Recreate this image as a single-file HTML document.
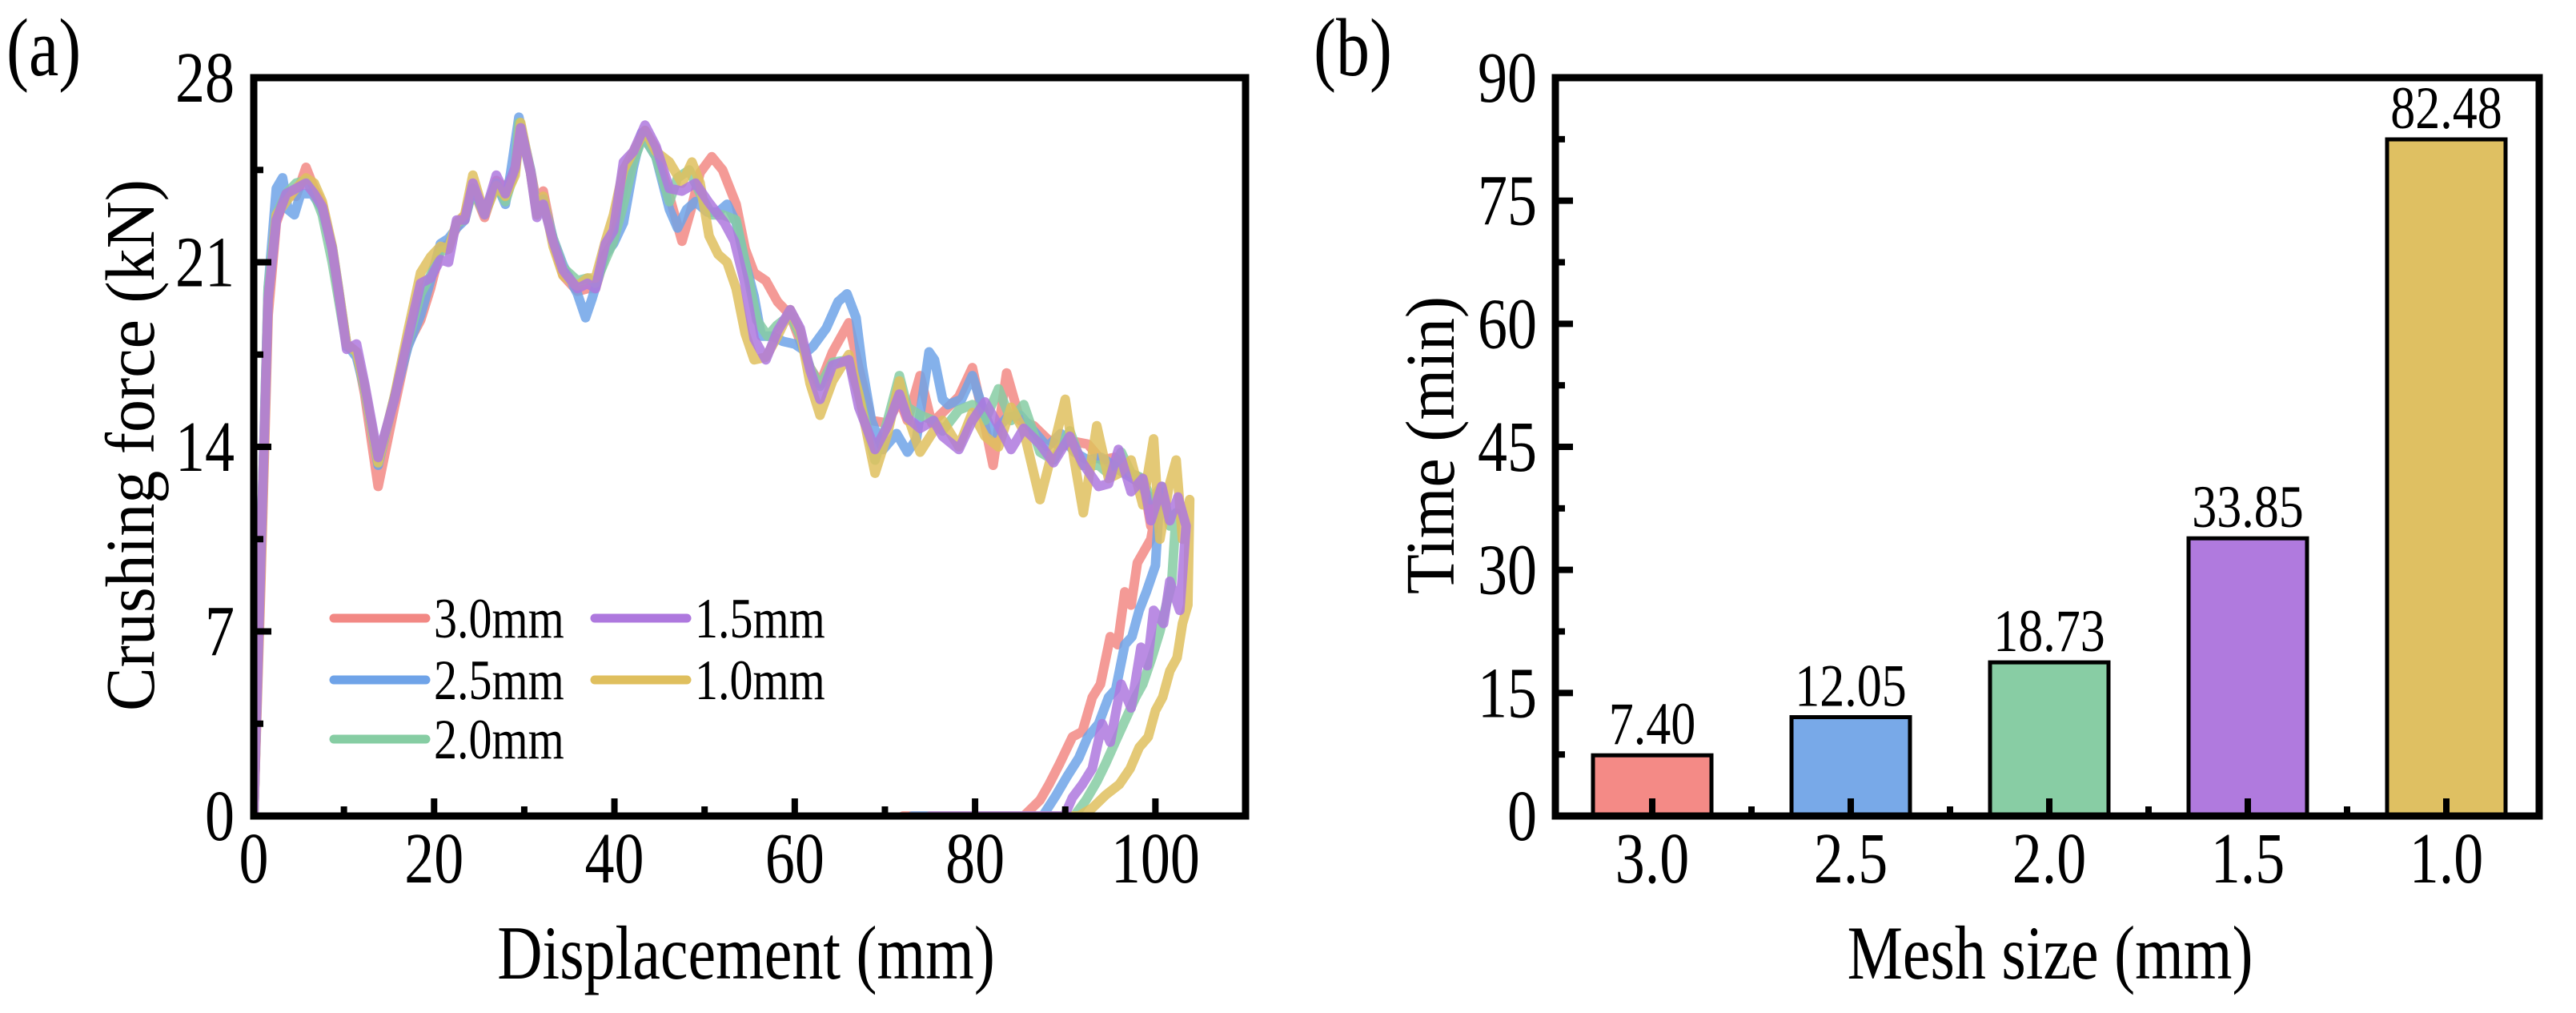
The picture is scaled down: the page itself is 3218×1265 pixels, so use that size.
<!DOCTYPE html>
<html><head><meta charset="utf-8"><style>
html,body{margin:0;padding:0;background:#fff;}
svg{display:block;}
text{font-family:"Liberation Serif","Times New Roman",serif;}
</style></head><body>
<svg id="fig" width="3218" height="1265" viewBox="0 0 3218 1265" xmlns="http://www.w3.org/2000/svg">
<g id="pa"></g>
<g id="pb"></g>
</svg>
<script>
// ---------- Panel (a) data ----------
const seriesNames = ["3.0mm","2.5mm","2.0mm","1.0mm","1.5mm"];
const seriesColors = ["#F28884","#6FA3E8","#86CDA3","#DFBF5E","#AE78DE"];
const xTicksA = [0,20,40,60,80,100];
const yTicksA = [0,7,14,21,28];
const s30 = [[0,0],[0.8,9],[1.6,19],[2.5,22.5],[3.6,23.6],[4.7,23.5],[5.8,24.6],[6.7,23.8],[7.6,23.2],[8.7,21.5],[9.4,19.8],[10.3,17.9],[11.4,17.6],[12.3,16.0],[13.8,12.5],[15.6,15.5],[17.1,17.9],[18.5,18.8],[19.6,20.0],[20.7,21.5],[21.6,21.7],[22.5,22.3],[23.4,22.8],[24.3,23.8],[25.6,22.7],[26.9,24.1],[27.9,23.8],[29.0,24.5],[29.6,26.0],[30.7,24.5],[31.4,23.2],[32.1,23.7],[33.2,21.8],[34.3,20.5],[35.9,19.9],[37.0,20.0],[37.9,20.0],[39.0,21.3],[39.9,21.8],[41.0,23.8],[42.1,25.0],[43.4,26.0],[44.6,25.3],[46.1,23.5],[47.5,21.8],[48.5,23.0],[49.5,24.4],[50.8,25.0],[52.0,24.5],[53.5,23.2],[54.5,21.5],[55.5,20.6],[56.8,20.3],[58.1,19.5],[59.5,19.0],[60.6,18.0],[61.7,17.0],[62.8,16.4],[64.2,17.6],[66.0,18.7],[67.1,17.0],[68.5,15.0],[70.3,14.9],[71.6,15.8],[72.5,15.0],[73.9,16.7],[75.2,14.9],[76.4,15.3],[78.2,15.9],[79.7,17.0],[81.1,14.8],[82.0,13.3],[83.5,16.8],[85.0,15.0],[86.5,14.8],[88.0,14.3],[89.5,14.0],[91.0,14.2],[92.5,14.1],[94.0,13.5],[95.5,13.6],[97.0,13.0],[98.6,12.8],[99.5,11.0],[100.3,12.0],[99.5,10.5],[98.0,9.6],[97.3,8.0],[96.6,8.5],[95.8,6.5],[95.0,6.8],[93.9,5.0],[93.0,4.5],[91.9,3.2],[90.8,3.0],[89.4,2.0],[88.2,1.2],[87.2,0.6],[85.4,0],[72,0]];
const s25 = [[0,0],[0.8,10],[1.6,20],[2.5,23.8],[3.2,24.2],[3.8,23.0],[4.5,22.8],[5.2,23.6],[6.5,23.6],[7.6,23.0],[8.7,21.6],[9.4,20.0],[10.3,17.9],[11.4,17.4],[12.3,16.2],[13.8,13.3],[15.6,15.9],[17.1,17.8],[18.5,19.0],[19.6,20.3],[20.7,21.7],[21.6,21.9],[22.5,22.3],[23.4,22.6],[24.3,23.8],[25.6,22.9],[26.9,24.0],[27.9,23.2],[28.5,24.4],[29.4,26.5],[30.7,24.5],[31.4,22.9],[32.1,23.4],[33.2,21.9],[34.3,20.9],[35.9,19.8],[36.8,18.9],[37.5,19.6],[39.0,21.3],[39.9,21.7],[41.0,22.5],[42.1,24.6],[43.0,25.9],[44.6,25.0],[46.1,23.0],[47.0,22.3],[48.0,23.0],[49.0,23.3],[50.3,22.9],[51.5,22.9],[52.5,23.2],[53.5,22.5],[54.5,21.0],[55.5,19.7],[56.3,18.2],[57.5,18.2],[58.7,18.0],[60.0,17.9],[61.3,17.6],[62.0,17.8],[63.5,18.5],[64.8,19.5],[65.8,19.8],[66.8,18.9],[67.5,17.0],[68.5,15.0],[69.8,13.9],[71.3,14.5],[72.5,13.8],[73.5,14.3],[74.9,17.6],[75.5,17.3],[76.4,15.8],[77.0,15.6],[78.5,15.8],[79.7,16.7],[81.0,15.3],[82.0,14.5],[83.5,15.1],[85.0,15.2],[86.5,14.6],[88.0,14.0],[89.5,14.5],[91.0,13.8],[92.5,13.5],[94.0,13.6],[95.3,13.3],[96.5,13.0],[98.0,12.7],[99.5,12.0],[100.5,12.3],[100.0,9.5],[99.0,8.5],[98.2,7.8],[97.4,6.8],[96.6,6.5],[95.6,4.8],[94.8,4.5],[93.7,3.5],[92.5,3.0],[91.5,2.2],[90.2,1.5],[89.0,0.8],[87.5,0],[73,0]];
const s20 = [[0,0],[0.8,10],[1.6,20],[2.5,22.8],[3.6,23.6],[4.7,24.0],[5.8,24.1],[6.7,23.6],[7.6,22.8],[8.7,21.0],[9.4,19.6],[10.3,17.8],[11.4,17.6],[12.3,16.2],[13.8,13.4],[15.6,15.9],[17.1,18.0],[18.5,19.8],[19.6,20.5],[20.7,21.4],[21.6,21.5],[22.5,22.5],[23.4,22.6],[24.3,23.8],[25.6,22.8],[26.9,24.0],[27.9,23.3],[29.0,24.5],[29.4,26.3],[30.7,24.4],[31.4,22.8],[32.1,23.2],[33.2,21.9],[34.3,20.8],[35.9,20.3],[37.0,20.4],[37.9,20.2],[39.0,21.1],[39.9,21.8],[41.0,23.2],[42.1,24.8],[43.2,25.8],[44.6,25.0],[46.1,23.3],[47.0,24.2],[48.3,24.5],[49.5,23.6],[50.8,22.8],[52.0,22.8],[53.5,22.6],[54.8,20.5],[55.8,18.8],[57.0,18.2],[58.0,18.6],[59.5,19.0],[60.6,18.2],[61.7,17.0],[62.8,16.3],[64.2,17.2],[66.0,17.3],[67.1,16.0],[68.9,13.5],[70.3,15.0],[71.6,16.7],[72.5,15.5],[73.9,15.2],[75.4,15.0],[76.4,14.6],[78.2,15.4],[79.7,15.6],[81.1,15.0],[82.6,16.2],[84.0,15.0],[85.4,15.6],[87.2,13.8],[88.7,13.5],[90.5,14.6],[91.9,13.3],[93.7,13.3],[95.1,12.9],[96.2,13.8],[97.3,13.0],[98.6,12.8],[99.5,12.0],[100.7,12.5],[101.6,11.0],[102.3,11.5],[101.8,8.8],[101.2,8.0],[100.5,7.0],[99.6,6.0],[98.6,5.0],[97.8,4.5],[96.6,3.6],[95.8,3.0],[94.5,2.0],[93.5,1.3],[92.3,0.6],[91.0,0],[75,0]];
const s10 = [[0,0],[0.8,9.5],[1.6,19.5],[2.5,22.8],[3.6,23.3],[4.7,23.8],[5.8,24.2],[6.7,24.0],[7.6,23.3],[8.7,21.6],[9.4,20.0],[10.3,17.9],[11.4,17.6],[12.3,16.3],[13.8,13.4],[15.6,15.9],[17.1,18.4],[18.5,20.6],[19.6,21.2],[20.7,21.6],[21.6,21.5],[22.5,22.5],[23.4,22.8],[24.3,24.3],[25.6,22.8],[26.9,23.9],[27.9,23.5],[29.0,24.3],[29.6,26.3],[30.7,24.4],[31.4,22.8],[32.1,23.5],[33.2,21.6],[34.3,20.5],[35.9,20.1],[37.0,20.4],[37.9,20.4],[39.0,21.8],[39.9,22.8],[41.0,24.5],[42.1,25.2],[43.4,26.0],[44.6,25.2],[46.1,24.8],[47.5,24.0],[48.6,24.8],[49.5,24.0],[50.5,22.0],[51.5,21.3],[52.5,21.0],[53.5,20.0],[54.5,18.3],[55.5,17.3],[56.8,17.4],[58.1,18.2],[59.5,19.2],[60.6,18.4],[61.7,16.4],[62.8,15.2],[64.2,16.5],[66.0,17.5],[67.1,16.0],[68.9,13.0],[70.3,14.5],[71.6,16.5],[72.5,15.2],[73.9,13.8],[75.4,14.6],[76.4,15.0],[78.2,14.0],[79.7,15.3],[81.1,14.4],[82.6,14.0],[84.0,15.5],[85.4,14.6],[87.2,12.0],[88.7,14.0],[90.0,15.8],[91.0,13.5],[92.0,11.5],[93.5,14.8],[94.8,12.8],[96.0,13.0],[97.3,13.5],[98.6,11.8],[99.8,14.3],[100.5,10.5],[101.5,12.5],[102.3,13.5],[103.0,10.5],[103.8,12.0],[103.6,8.0],[103.0,7.3],[102.4,6.0],[101.6,5.5],[100.8,4.5],[100.0,4.0],[99.2,3.0],[98.2,2.6],[97.2,1.8],[96.0,1.2],[94.5,0.8],[93.0,0.3],[91.5,0],[75,0]];
const s15 = [[0,0],[0.8,10],[1.6,19.6],[2.5,22.6],[3.6,23.6],[4.7,23.8],[5.8,24.0],[6.7,23.6],[7.6,23.1],[8.7,21.5],[9.4,19.9],[10.3,17.7],[11.4,17.9],[12.3,16.4],[13.8,13.6],[15.6,15.8],[17.1,18.1],[18.5,20.2],[19.6,20.4],[20.7,21.1],[21.6,21.0],[22.5,22.6],[23.4,22.6],[24.3,24.0],[25.6,22.8],[26.9,24.3],[27.9,23.6],[29.0,24.6],[29.6,26.1],[30.7,24.4],[31.4,22.7],[32.1,23.2],[33.2,21.8],[34.3,20.7],[35.9,20.0],[37.0,20.2],[37.9,20.0],[39.0,21.7],[39.9,22.2],[41.0,24.8],[42.1,25.2],[43.4,26.2],[44.6,25.4],[46.1,23.8],[47.5,23.7],[49.0,24.0],[50.4,23.3],[52.2,22.5],[53.3,21.8],[54.4,20.3],[55.5,18.1],[56.8,17.3],[58.1,18.4],[59.5,19.2],[60.6,18.5],[61.7,16.9],[62.8,15.8],[64.2,17.1],[66.0,17.3],[67.1,15.5],[68.9,13.9],[70.3,14.8],[71.6,16.0],[72.5,15.1],[73.9,14.7],[75.4,15.0],[76.4,14.4],[78.2,13.9],[79.7,15.0],[81.1,15.7],[82.6,14.8],[84.0,13.9],[85.4,14.7],[87.2,14.1],[88.7,13.4],[90.5,14.4],[91.9,13.4],[93.7,12.5],[94.8,12.6],[95.9,13.9],[97.3,12.3],[98.6,12.8],[99.5,11.2],[100.7,12.5],[101.6,11.2],[102.5,12.1],[103.4,11.0],[102.7,7.8],[101.6,8.9],[100.9,7.3],[99.8,7.8],[99.1,5.7],[98.4,6.4],[97.3,4.1],[96.2,5.0],[95.0,2.8],[94.1,3.5],[93.0,1.8],[91.9,1.2],[90.8,0.7],[89.9,0],[75,0]];
const seriesData = [s30, s25, s20, s10, s15];

// ---------- Panel (b) data ----------
const meshCats = ["3.0","2.5","2.0","1.5","1.0"];
const timeVals = [7.40, 12.05, 18.73, 33.85, 82.48];
const timeLabels = ["7.40","12.05","18.73","33.85","82.48"];
const barColors = ["#F48A86","#78A9E8","#88CDA4","#B07ADE","#DFC062"];
const yTicksB = [0,15,30,45,60,75,90];

const NS = "http://www.w3.org/2000/svg";
const SY = 1.22;
function mk(parent, tag, attrs, txt){
  const e = document.createElementNS(NS, tag);
  for (const k in attrs) e.setAttribute(k, attrs[k]);
  if (txt !== undefined) e.textContent = txt;
  parent.appendChild(e);
  return e;
}
function txt(parent, x, y, size, anchor, s, rot){
  const tr = rot ? 'translate(' + x + ',' + y + ') rotate(-90) scale(1.05,1.12)' : 'translate(' + x + ',' + y + ') scale(1,' + SY + ')';
  return mk(parent, 'text', {x:0, y:0, 'font-size':size, 'text-anchor':anchor, transform:tr}, s);
}

// ---------- Panel (a) ----------
const pa = document.getElementById('pa');
const A = {l:317, r:1556, t:97, b:1019, xmin:0, xmax:110, ymin:0, ymax:28};
const ax = v => A.l + (v - A.xmin) / (A.xmax - A.xmin) * (A.r - A.l);
const ay = v => A.b - (v - A.ymin) / (A.ymax - A.ymin) * (A.b - A.t);

let clip = mk(pa, 'clipPath', {id:'clipA'});
mk(clip, 'rect', {x:A.l, y:A.t, width:A.r-A.l, height:A.b-A.t});
const linesG = mk(pa, 'g', {'clip-path':'url(#clipA)'});


seriesData.forEach((s, i) => {
  const d = s.map((p, j) => (j ? 'L' : 'M') + ax(p[0]).toFixed(1) + ',' + ay(p[1]).toFixed(1)).join(' ');
  const path = mk(linesG, 'path', {d:d, fill:'none', stroke:seriesColors[i], 'stroke-width':12, 'stroke-linejoin':'round', 'stroke-linecap':'round', opacity:0.85});
  
  
});

const frameA = mk(pa, 'rect', {x:A.l, y:A.t, width:A.r-A.l, height:A.b-A.t, fill:'none', stroke:'#000', 'stroke-width':9});


xTicksA.forEach(v => {
  mk(pa, 'line', {x1:ax(v), x2:ax(v), y1:A.b, y2:A.b-22, stroke:'#000', 'stroke-width':8});
  const t = txt(pa, ax(v), 1102, 74, 'middle', String(v));
  
  
});
[10,30,50,70,90].forEach(v => mk(pa, 'line', {x1:ax(v), x2:ax(v), y1:A.b, y2:A.b-12, stroke:'#000', 'stroke-width':8}));
yTicksA.forEach(v => {
  mk(pa, 'line', {x1:A.l, x2:A.l+22, y1:ay(v), y2:ay(v), stroke:'#000', 'stroke-width':8});
  const t = txt(pa, 293, ay(v)+30, 74, 'end', String(v));
  
  
});
[3.5,10.5,17.5,24.5].forEach(v => mk(pa, 'line', {x1:A.l, x2:A.l+12, y1:ay(v), y2:ay(v), stroke:'#000', 'stroke-width':8}));

let tt = txt(pa, 192, 556, 78, 'middle', 'Crushing force (kN)', true);


tt = txt(pa, 932, 1222, 78, 'middle', 'Displacement (mm)');


tt = txt(pa, 8, 94, 84, 'start', '(a)');



const legend = mk(pa, 'g', {});


const legPos = [[417,772],[417,849],[417,923],[743,849],[743,772]];
seriesNames.forEach((n, i) => {
  const g = mk(legend, 'g', {});
  
  
  const [lx, ly] = legPos[i];
  mk(g, 'line', {x1:lx, x2:lx+115, y1:ly, y2:ly, stroke:seriesColors[i], 'stroke-width':11, 'stroke-linecap':'round'});
  txt(g, lx+125, ly+24, 58, 'start', n);
});

// ---------- Panel (b) ----------
const pb = document.getElementById('pb');
const B = {l:1943, r:3172, t:97, b:1019, ymax:90};
const slot = 248;
const bx = i => 2064 + i * slot;
const by = v => B.b - v / B.ymax * (B.b - B.t);
const barW = 148;

meshCats.forEach((c, i) => {
  const r = mk(pb, 'rect', {x:bx(i)-barW/2, y:by(timeVals[i]), width:barW, height:B.b-by(timeVals[i]), fill:barColors[i], stroke:'#000', 'stroke-width':5});
  
  
  const t = txt(pb, bx(i), by(timeVals[i])-14, 62, 'middle', timeLabels[i]);
  
  
  const xt = txt(pb, bx(i), 1102, 74, 'middle', c);
  
  
  mk(pb, 'line', {x1:bx(i), x2:bx(i), y1:B.b, y2:B.b-22, stroke:'#000', 'stroke-width':8});
  if (i < meshCats.length - 1) mk(pb, 'line', {x1:bx(i)+slot/2, x2:bx(i)+slot/2, y1:B.b, y2:B.b-12, stroke:'#000', 'stroke-width':8});
});
const frameB = mk(pb, 'rect', {x:B.l, y:B.t, width:B.r-B.l, height:B.b-B.t, fill:'none', stroke:'#000', 'stroke-width':9});


yTicksB.forEach(v => {
  mk(pb, 'line', {x1:B.l, x2:B.l+22, y1:by(v), y2:by(v), stroke:'#000', 'stroke-width':8});
  const t = txt(pb, 1920, by(v)+30, 74, 'end', String(v));
  
  
});
[7.5,22.5,37.5,52.5,67.5,82.5].forEach(v => mk(pb, 'line', {x1:B.l, x2:B.l+12, y1:by(v), y2:by(v), stroke:'#000', 'stroke-width':8}));

tt = txt(pb, 1816, 556, 78, 'middle', 'Time (min)', true);


tt = txt(pb, 2561, 1222, 78, 'middle', 'Mesh size (mm)');


tt = txt(pb, 1641, 94, 84, 'start', '(b)');


</script>
</body></html>
